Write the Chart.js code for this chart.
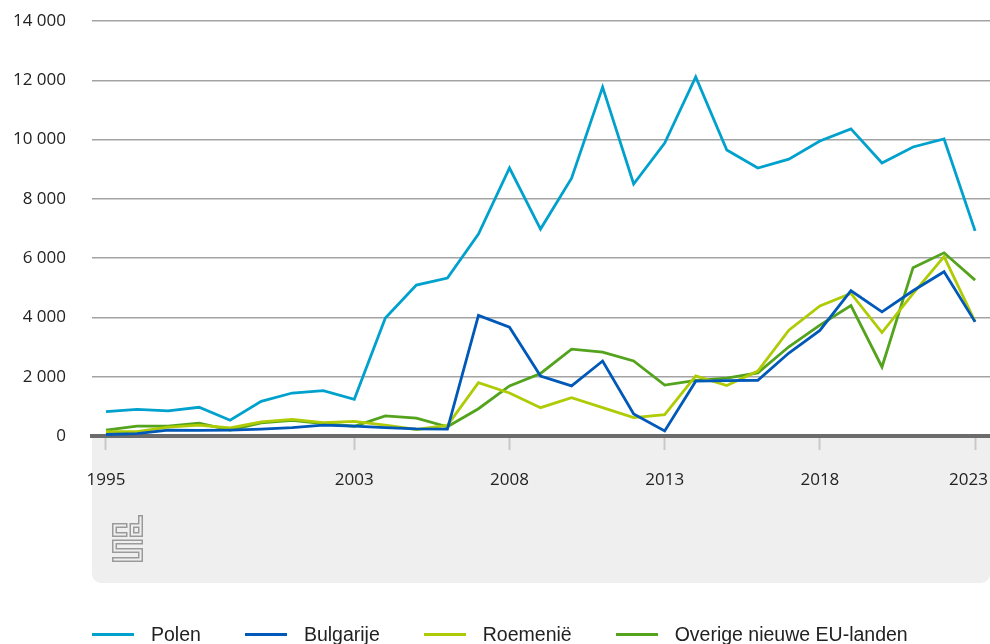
<!DOCTYPE html>
<html>
<head>
<meta charset="utf-8">
<script src="https://cdn.jsdelivr.net/npm/chart.js@4.4.1/dist/chart.umd.min.js"></script>
<style>
    html, body { margin: 0; padding: 0; background: #fff; overflow: hidden; }
    #wrap { position: relative; width: 990px; height: 644px; }
    #legend { position: absolute; left: 92px; top: 622px; height: 24px; display: flex;
        font-family: "Liberation Sans Narrow", "Arial Narrow", sans-serif; font-size: 19.5px;
        line-height: 24px; color: #222; white-space: nowrap; }
    .item { display: inline-flex; align-items: center; margin-right: 44px; }
    .mark { width: 42px; height: 3px; margin-right: 17px; }
</style>
</head>
<body>
<div id="wrap">
    <canvas id="chart" width="990" height="644"></canvas>
    <div id="legend"></div>
</div>
<script>
const years = [1995, 1996, 1997, 1998, 1999, 2000, 2001, 2002, 2003, 2004, 2005, 2006, 2007, 2008, 2009,
    2010, 2011, 2012, 2013, 2014, 2015, 2016, 2017, 2018, 2019, 2020, 2021, 2022, 2023];
const tickYears = [1995, 2003, 2008, 2013, 2018, 2023];

const polen = [820, 900, 850, 970, 530, 1170, 1450, 1530, 1240, 3980, 5090, 5330, 6810, 9040, 6980,
    8700, 11770, 8500, 9880, 12110, 9650, 9040, 9340, 9950, 10360, 9210, 9750, 10020, 6920];
const bulgarije = [50, 80, 200, 190, 200, 230, 280, 370, 330, 280, 240, 230, 4070, 3670, 2020,
    1690, 2530, 740, 170, 1850, 1870, 1880, 2800, 3560, 4900, 4190, 4900, 5540, 3850];
const roemenie = [150, 150, 300, 370, 270, 480, 560, 450, 490, 370, 220, 360, 1800, 1450, 955,
    1290, 955, 620, 720, 2030, 1700, 2190, 3570, 4390, 4810, 3490, 4800, 6050, 3860];
const overige = [200, 330, 330, 430, 200, 440, 530, 420, 330, 680, 600, 310, 920, 1690, 2110,
    2930, 2830, 2530, 1720, 1880, 1950, 2130, 3010, 3740, 4400, 2330, 5680, 6180, 5260];

const seriesNames = ['Polen', 'Bulgarije', 'Roemenië', 'Overige nieuwe EU-landen'];
const seriesColors = ['#00a1cd', '#0058b8', '#afcb05', '#53a31d'];
const seriesValues = [polen, bulgarije, roemenie, overige];

// grijs vlak onder de x-as
const axisBox = {
    id: 'axisBox',
    beforeDraw(chart) {
        const { ctx } = chart;
        const x = chart.scales.x;
        ctx.save();
        ctx.fillStyle = '#efefef';
        ctx.beginPath();
        ctx.roundRect(x.left, x.top, x.right - x.left, x.bottom - x.top, [0, 0, 9, 9]);
        ctx.fill();
        ctx.restore();
    }
};

// cbs logo
const cbsLogo = {
    id: 'cbsLogo',
    afterDraw(chart) {
        const { ctx } = chart;
        const ox = chart.scales.x.left + 20;
        const oy = chart.scales.x.top + 79;
        const paths = [
            [[13, 10.5], [2.5, 10.5], [2.5, 19.5], [13, 19.5]],
            [[28.5, 2.5], [28.5, 19.5], [20, 19.5], [20, 10.5], [28.5, 10.5]],
            [[28.5, 27], [2.5, 27], [2.5, 35.5], [28.5, 35.5], [28.5, 44.5], [2.5, 44.5]]
        ];
        ctx.save();
        ctx.lineJoin = 'miter';
        ctx.lineCap = 'square';
        [[5, '#9a9a9a'], [2, '#efefef']].forEach(([w, c]) => {
            ctx.lineWidth = w;
            ctx.strokeStyle = c;
            paths.forEach(p => {
                ctx.beginPath();
                p.forEach(([px, py], i) => i ? ctx.lineTo(ox + px, oy + py) : ctx.moveTo(ox + px, oy + py));
                ctx.stroke();
            });
        });
        ctx.restore();
    }
};

const datasets = seriesNames.map((name, i) => ({
    label: name,
    data: years.map((y, j) => ({ x: y, y: seriesValues[i][j] })),
    borderColor: seriesColors[i],
    backgroundColor: seriesColors[i],
    borderWidth: 2.8,
    pointRadius: 0,
    tension: 0
}));

new Chart(document.getElementById('chart').getContext('2d'), {
    type: 'line',
    data: { datasets: datasets },
    options: {
        responsive: false,
        animation: false,
        layout: { padding: { top: 21, right: 0, bottom: 61, left: 0 } },
        plugins: {
            legend: { display: false },
            tooltip: { enabled: false }
        },
        scales: {
            x: {
                type: 'linear',
                min: 1994.55,
                max: 2023.48,
                afterBuildTicks: (scale) => { scale.ticks = tickYears.map(v => ({ value: v })); },
                afterFit: (scale) => { scale.height = 147; scale.paddingLeft = 0; scale.paddingRight = 0; },
                grid: { drawOnChartArea: false, drawTicks: true, tickLength: 14, tickColor: '#c8c8c8', tickWidth: 2 },
                border: { display: true, color: '#6b6b6b', width: 4 },
                ticks: {
                    padding: 20,
                    maxRotation: 0,
                    color: '#222',
                    font: { family: 'Open Sans', size: 17 },
                    // laatste label iets naar links zodat het binnen het vlak valt
                    callback: (v) => v === 2023 ? String(v) + '   ' : String(v)
                }
            },
            y: {
                min: 0,
                max: 14000,
                afterFit: (scale) => { scale.width = 92; scale.paddingTop = 0; scale.paddingBottom = 0; },
                grid: { color: '#a3a3a3', lineWidth: 1.5, drawTicks: false },
                border: { display: false },
                ticks: {
                    stepSize: 2000,
                    padding: 26,
                    color: '#222',
                    font: { family: 'Open Sans', size: 17 },
                    callback: (v) => String(v).replace(/\B(?=(\d{3})+(?!\d))/g, ' ')
                }
            }
        }
    },
    plugins: [axisBox, cbsLogo]
});

const legend = document.getElementById('legend');
seriesNames.forEach((name, i) => {
    const item = document.createElement('span');
    item.className = 'item';
    const mark = document.createElement('span');
    mark.className = 'mark';
    mark.style.background = seriesColors[i];
    item.appendChild(mark);
    item.appendChild(document.createTextNode(name));
    legend.appendChild(item);
});
</script>
</body>
</html>
